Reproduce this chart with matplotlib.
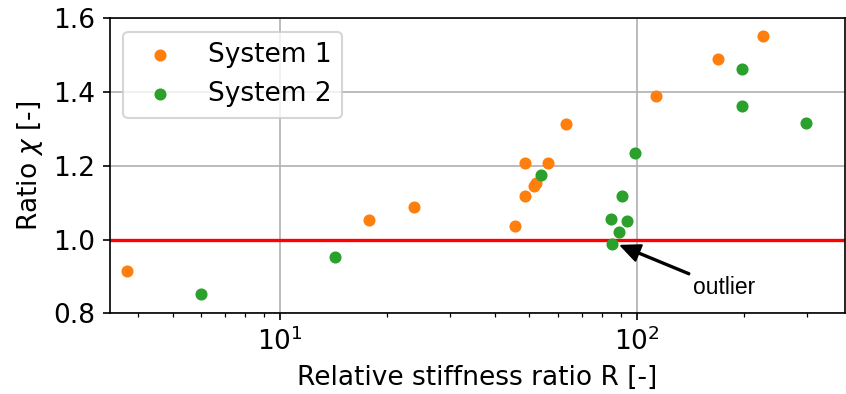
import matplotlib
matplotlib.use("Agg")
import matplotlib.pyplot as plt

plt.rcParams['font.size'] = 12.7

# System 1 (orange)
r_sys1 = [3.72, 17.8, 23.7, 45.5, 48.5, 48.6, 51.5, 52.2, 56.3, 63.4, 112.8, 169.0, 225.6]
chi_sys1 = [0.916, 1.052, 1.088, 1.037, 1.207, 1.117, 1.145, 1.154, 1.207, 1.312, 1.389, 1.489, 1.551]

# System 2 (green)
r_sys2 = [6.02, 14.3, 54.0, 84.9, 85.3, 89.4, 90.6, 94.0, 98.9, 197.3, 197.3, 297.0]
chi_sys2 = [0.852, 0.954, 1.174, 1.055, 0.987, 1.020, 1.117, 1.050, 1.234, 1.463, 1.363, 1.317]

outlier_pt = (85.3, 0.987)
outlier_txt = (144.0, 0.871)

fig = plt.figure(figsize=(846 / 150, 394 / 150), dpi=150)
ax = fig.add_axes([110 / 846, 1 - 313.3 / 394, 735 / 846, 295 / 394])

ax.scatter(r_sys1, chi_sys1, s=23, color='#ff7f0e', label='System 1', zorder=3)
ax.scatter(r_sys2, chi_sys2, s=23, color='#2ca02c', label='System 2', zorder=3)
ax.axhline(1.0, color='red', lw=1.6, zorder=2)

ax.annotate('outlier', xy=(outlier_pt[0] * 1.06, outlier_pt[1] - 0.004), xytext=outlier_txt,
            va='center', ha='left', fontsize=11, family='Liberation Sans',
            arrowprops=dict(facecolor='black', edgecolor='black', width=0.6, headwidth=8, headlength=9, shrink=0.0))

ax.set_xscale('log')
ax.set_xlim(3.34, 383)
ax.set_ylim(0.8, 1.6)
ax.set_yticks([0.8, 1.0, 1.2, 1.4, 1.6])
ax.grid(True, which='major', color='#b0b0b0', lw=0.8)
ax.set_axisbelow(True)

ax.set_xlabel('Relative stiffness ratio R [-]')
ax.set_ylabel(r'Ratio $\chi$ [-]')
ax.legend(loc='upper left')

fig.savefig('out.png', dpi=150)
